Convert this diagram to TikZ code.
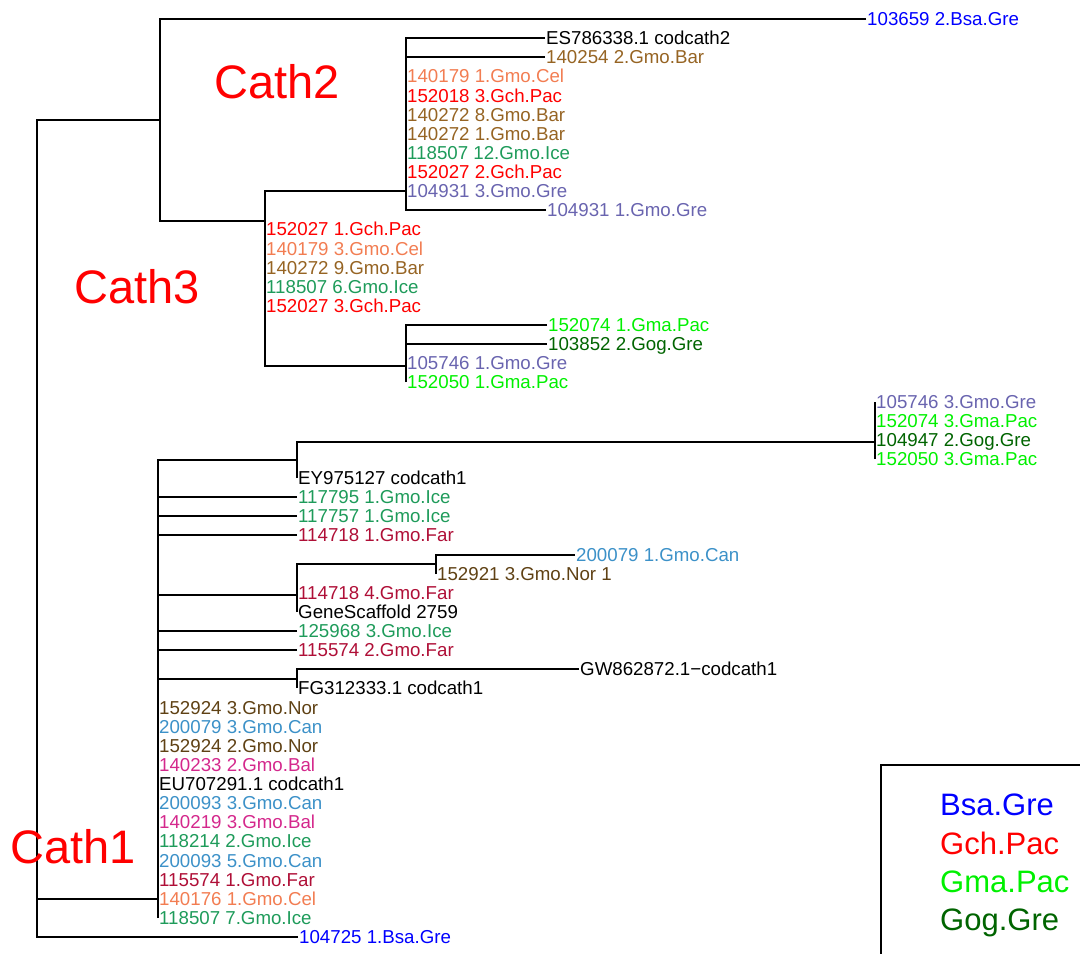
\documentclass[tikz,border=0pt]{standalone}
\usepackage{fontspec}
\setmainfont{Liberation Sans}

\definecolor{cBsa}{RGB}{0,0,255}
\definecolor{cGch}{RGB}{255,0,0}
\definecolor{cGma}{RGB}{0,240,0}
\definecolor{cGog}{RGB}{0,100,0}
\definecolor{cCel}{RGB}{242,125,82}
\definecolor{cBar}{RGB}{150,100,35}
\definecolor{cIce}{RGB}{30,155,90}
\definecolor{cGre}{RGB}{105,100,175}
\definecolor{cFar}{RGB}{175,15,55}
\definecolor{cNor}{RGB}{95,65,20}
\definecolor{cCan}{RGB}{60,145,200}
\definecolor{cBal}{RGB}{212,40,140}

\tikzset{
  lf/.style={anchor=west,inner xsep=1pt,inner ysep=0pt,
    font=\fontsize{18.7}{20}\selectfont,text height=13.4pt,text depth=0pt},
  br/.style={line width=2pt},
  clade/.style={text=red,font=\fontsize{47}{50}\selectfont},
  key/.style={anchor=west,inner sep=0pt,font=\fontsize{31}{34}\selectfont,
    text height=22.4pt,text depth=0pt},
  bsagre/.style={text=cBsa}, gchpac/.style={text=cGch},
  gmapac/.style={text=cGma}, goggre/.style={text=cGog},
  gmocel/.style={text=cCel}, gmobar/.style={text=cBar},
  gmoice/.style={text=cIce}, gmogre/.style={text=cGre},
  gmofar/.style={text=cFar}, gmonor/.style={text=cNor},
  gmocan/.style={text=cCan}, gmobal/.style={text=cBal},
}

\begin{document}
\begin{tikzpicture}[x=1pt,y=-1pt]
\useasboundingbox (0,0) rectangle (1080,954);

% ( Leaves: one row every ~19 units, the x is where the branch ends )

\path
(866,19) node[lf,bsagre](l1){103659 2.Bsa.Gre}
(545,38) node[lf](l2){ES786338.1 codcath2}
(545,57) node[lf,gmobar](l3){140254 2.Gmo.Bar}
(406,76) node[lf,gmocel](l4){140179 1.Gmo.Cel}
(406,96) node[lf,gchpac](l5){152018 3.Gch.Pac}
(406,115) node[lf,gmobar](l6){140272 8.Gmo.Bar}
(406,134) node[lf,gmobar](l7){140272 1.Gmo.Bar}
(406,153) node[lf,gmoice](l8){118507 12.Gmo.Ice}
(406,172) node[lf,gchpac](l9){152027 2.Gch.Pac}
(406,191) node[lf,gmogre](l10){104931 3.Gmo.Gre}
(546,210) node[lf,gmogre](l11){104931 1.Gmo.Gre}
(265,229) node[lf,gchpac](l12){152027 1.Gch.Pac}
(265,249) node[lf,gmocel](l13){140179 3.Gmo.Cel}
(265,268) node[lf,gmobar](l14){140272 9.Gmo.Bar}
(265,287) node[lf,gmoice](l15){118507 6.Gmo.Ice}
(265,306) node[lf,gchpac](l16){152027 3.Gch.Pac}
(547,325) node[lf,gmapac](l17){152074 1.Gma.Pac}
(547,344) node[lf,goggre](l18){103852 2.Gog.Gre}
(406,363) node[lf,gmogre](l19){105746 1.Gmo.Gre}
(406,382) node[lf,gmapac](l20){152050 1.Gma.Pac}
(875,402) node[lf,gmogre](l21){105746 3.Gmo.Gre}
(875,421) node[lf,gmapac](l22){152074 3.Gma.Pac}
(875,440) node[lf,goggre](l23){104947 2.Gog.Gre}
(875,459) node[lf,gmapac](l24){152050 3.Gma.Pac}
(297,478) node[lf](l25){EY975127 codcath1}
(297,497) node[lf,gmoice](l26){117795 1.Gmo.Ice}
(297,516) node[lf,gmoice](l27){117757 1.Gmo.Ice}
(297,535) node[lf,gmofar](l28){114718 1.Gmo.Far}
(575,555) node[lf,gmocan](l29){200079 1.Gmo.Can}
(436,574) node[lf,gmonor](l30){152921 3.Gmo.Nor 1}
(297,593) node[lf,gmofar](l31){114718 4.Gmo.Far}
(297,612) node[lf](l32){GeneScaffold 2759}
(297,631) node[lf,gmoice](l33){125968 3.Gmo.Ice}
(297,650) node[lf,gmofar](l34){115574 2.Gmo.Far}
(579,669) node[lf](l35){GW862872.1−codcath1}
(297,688) node[lf](l36){FG312333.1 codcath1}
(158,708) node[lf,gmonor](l37){152924 3.Gmo.Nor}
(158,727) node[lf,gmocan](l38){200079 3.Gmo.Can}
(158,746) node[lf,gmonor](l39){152924 2.Gmo.Nor}
(158,765) node[lf,gmobal](l40){140233 2.Gmo.Bal}
(158,784) node[lf](l41){EU707291.1 codcath1}
(158,803) node[lf,gmocan](l42){200093 3.Gmo.Can}
(158,822) node[lf,gmobal](l43){140219 3.Gmo.Bal}
(158,841) node[lf,gmoice](l44){118214 2.Gmo.Ice}
(158,861) node[lf,gmocan](l45){200093 5.Gmo.Can}
(158,880) node[lf,gmofar](l46){115574 1.Gmo.Far}
(158,899) node[lf,gmocel](l47){140176 1.Gmo.Cel}
(158,918) node[lf,gmoice](l48){118507 7.Gmo.Ice}
(298,937) node[lf,bsagre](l49){104725 1.Bsa.Gre};

% ( Inner nodes sit where the branch from their parent comes in )
\path
(37,500) coordinate(r) (160,120) coordinate(t)
(265,221) coordinate(c3) (406,191) coordinate(c2)
(406,366) coordinate(g1) (158,899) coordinate(c1)
(297,460) coordinate(e) (875,442) coordinate(m)
(297,595) coordinate(s) (436,564) coordinate(n)
(297,679) coordinate(f);

\draw[br] (t) -| (r) (c1) -| (r) (l49.west) -| (r);
\draw[br] (l1.west) -| (t) (c3) -| (t);
\draw[br] (c2) -| (c3) (g1) -| (c3)
  (l12.west) -| (c3) (l13.west) -| (c3) (l14.west) -| (c3)
  (l15.west) -| (c3) (l16.west) -| (c3);
\draw[br] (l2.west) -| (c2) (l3.west) -| (c2) (l4.west) -| (c2)
  (l5.west) -| (c2) (l6.west) -| (c2) (l7.west) -| (c2)
  (l8.west) -| (c2) (l9.west) -| (c2) (l10.west) -| (c2)
  (l11.west) -| (c2);
\draw[br] (l17.west) -| (g1) (l18.west) -| (g1)
  (l19.west) -| (g1) (l20.west) -| (g1);
\draw[br] (e) -| (c1) (s) -| (c1) (f) -| (c1)
  (l26.west) -| (c1) (l27.west) -| (c1) (l28.west) -| (c1)
  (l33.west) -| (c1) (l34.west) -| (c1)
  (l37.west) -| (c1) (l38.west) -| (c1) (l39.west) -| (c1)
  (l40.west) -| (c1) (l41.west) -| (c1) (l42.west) -| (c1)
  (l43.west) -| (c1) (l44.west) -| (c1) (l45.west) -| (c1)
  (l46.west) -| (c1) (l47.west) -| (c1) (l48.west) -| (c1);
\draw[br] (m) -| (e) (l25.west) -| (e);
\draw[br] (l21.west) -| (m) (l22.west) -| (m)
  (l23.west) -| (m) (l24.west) -| (m);
\draw[br] (n) -| (s) (l31.west) -| (s) (l32.west) -| (s);
\draw[br] (l29.west) -| (n) (l30.west) -| (n);
\draw[br] (l35.west) -| (f) (l36.west) -| (f);

\node[clade](cath2) at (277,82) {Cath2};
\node[clade](cath3) at (137,287) {Cath3};
\node[clade](cath1) at (73,847) {Cath1};

% ( legend box runs off the page on the right and at the bottom )
\draw[line width=1.3pt] (881,765) rectangle (1100,980);
\node[key,bsagre](k1) at (940,804) {Bsa.Gre};
\node[key,gchpac](k2) at (940,843) {Gch.Pac};
\node[key,gmapac](k3) at (940,881.5) {Gma.Pac};
\node[key,goggre](k4) at (940,919) {Gog.Gre};
\end{tikzpicture}
\end{document}
